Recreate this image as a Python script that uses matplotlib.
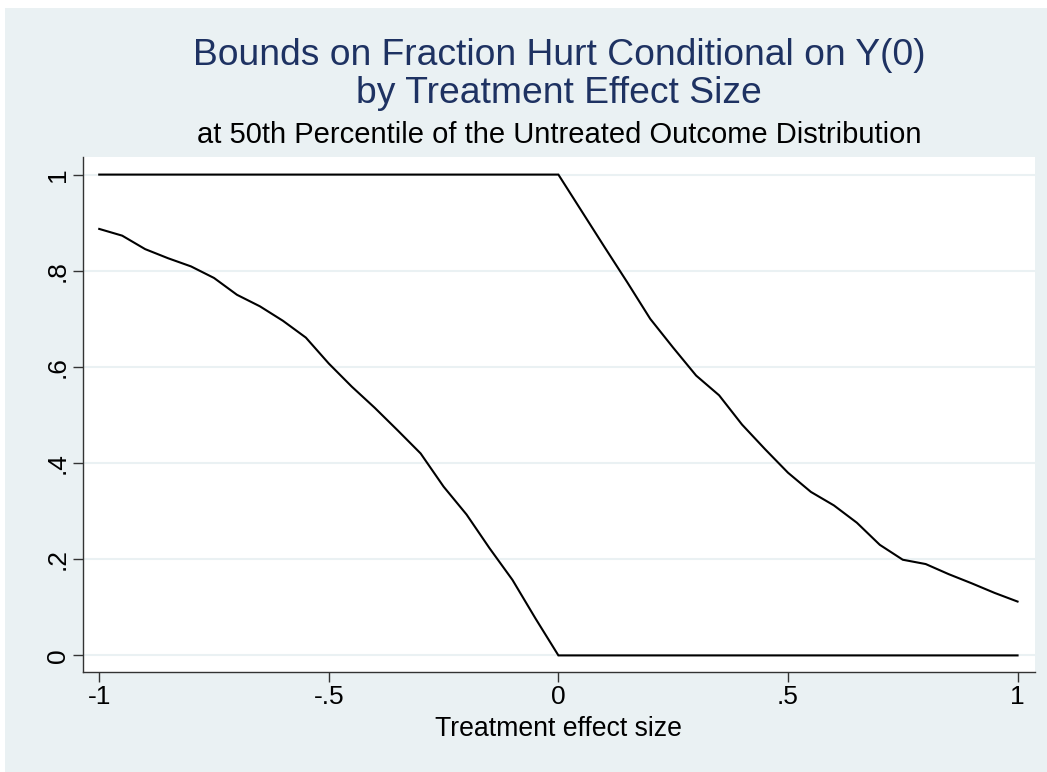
import matplotlib
matplotlib.use("Agg")
import matplotlib.pyplot as plt
from matplotlib.patches import Rectangle

# ---- data ----
effect_size = [-1.00, -0.95, -0.90, -0.85, -0.80, -0.75, -0.70, -0.65, -0.60, -0.55,
               -0.50, -0.45, -0.40, -0.35, -0.30, -0.25, -0.20, -0.15, -0.10, -0.05,
               0.00, 0.05, 0.10, 0.15, 0.20, 0.25, 0.30, 0.35, 0.40, 0.45,
               0.50, 0.55, 0.60, 0.65, 0.70, 0.75, 0.80, 0.85, 0.90, 0.95, 1.00]
upper_bound = [1.0, 1.0, 1.0, 1.0, 1.0, 1.0, 1.0, 1.0, 1.0, 1.0,
               1.0, 1.0, 1.0, 1.0, 1.0, 1.0, 1.0, 1.0, 1.0, 1.0,
               1.0, 0.925, 0.850, 0.776, 0.700, 0.640, 0.582, 0.541, 0.480, 0.429,
               0.380, 0.340, 0.312, 0.276, 0.230, 0.199, 0.190, 0.169, 0.150, 0.130, 0.112]
lower_bound = [0.887, 0.873, 0.845, 0.826, 0.809, 0.785, 0.750, 0.726, 0.696, 0.661,
               0.607, 0.559, 0.515, 0.468, 0.420, 0.351, 0.293, 0.223, 0.157, 0.077,
               0.0, 0.0, 0.0, 0.0, 0.0, 0.0, 0.0, 0.0, 0.0, 0.0,
               0.0, 0.0, 0.0, 0.0, 0.0, 0.0, 0.0, 0.0, 0.0, 0.0, 0.0]
x_ticks = [-1, -0.5, 0, 0.5, 1]
x_tick_labels = ["-1", "-.5", "0", ".5", "1"]
y_ticks = [0, 0.2, 0.4, 0.6, 0.8, 1.0]
y_tick_labels = ["0", ".2", ".4", ".6", ".8", "1"]

title_lines = ["Bounds on Fraction Hurt Conditional on Y(0)", "by Treatment Effect Size"]
subtitle = "at 50th Percentile of the Untreated Outcome Distribution"
x_label = "Treatment effect size"

# ---- style ----
plt.rcParams['font.family'] = ['Liberation Sans', 'DejaVu Sans']
W, H = 1047, 772
bg = "#eaf1f3"
title_color = "#1e3262"

fig = plt.figure(figsize=(W / 100, H / 100), dpi=100, facecolor="white")
fig.patches.append(Rectangle((5 / W, 0), 1 - 5 / W, 1 - 8 / H, transform=fig.transFigure,
                             facecolor=bg, edgecolor="none", zorder=-10))

left, right, top, bottom = 82.7, 1035.0, 156.8, 672.0
ax = fig.add_axes([left / W, 1 - bottom / H, (right - left) / W, (bottom - top) / H])
ax.set_zorder(5)
ax.set_facecolor("white")

ax.plot(effect_size, upper_bound, color="black", lw=1.5, solid_joinstyle="miter", zorder=3)
ax.plot(effect_size, lower_bound, color="black", lw=1.5, solid_joinstyle="miter", zorder=3)

ax.set_xlim(-1.036, 1.038)
ax.set_ylim(-0.0345, 1.037)

ax.set_xticks(x_ticks)
ax.set_xticklabels(x_tick_labels)
ax.set_yticks(y_ticks)
ax.set_yticklabels(y_tick_labels, rotation=90, va="center")

ax.grid(axis="y", color=bg, lw=1.5, zorder=1)
ax.grid(axis="x", visible=False)

for s in ["top", "right"]:
    ax.spines[s].set_visible(False)
for s in ["left", "bottom"]:
    ax.spines[s].set_color("#333333")
    ax.spines[s].set_linewidth(1.0)

ax.tick_params(axis="both", direction="out", length=7.2, width=1.0, color="#333333",
               labelsize=19, labelcolor="black")
ax.tick_params(axis="x", pad=2)
ax.tick_params(axis="y", pad=2)

ax.set_xlabel(x_label, fontsize=19.2, color="black", va="baseline")
ax.xaxis.set_label_coords(0.5, -(736 - bottom) / (bottom - top))

cx = (left + right) / 2 / W
fig.text(cx, 1 - 65 / H, title_lines[0], ha="center", va="baseline", fontsize=26.8, color=title_color)
fig.text(cx, 1 - 102.7 / H, title_lines[1], ha="center", va="baseline", fontsize=26.8, color=title_color)
fig.text(cx, 1 - 143.3 / H, subtitle, ha="center", va="baseline", fontsize=21, color="black")

fig.savefig("out.png", dpi=100, facecolor="white")
